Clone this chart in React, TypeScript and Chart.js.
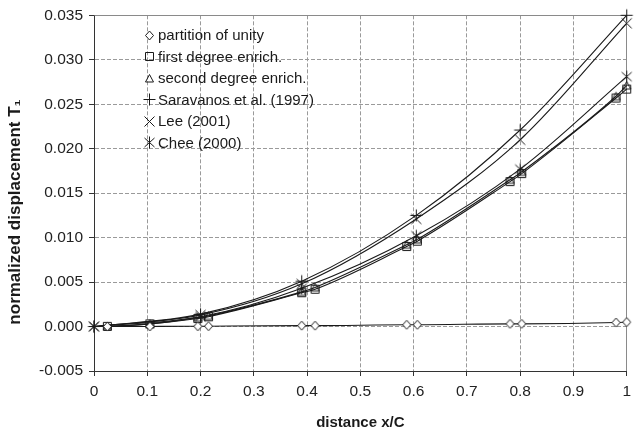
import React, { useEffect, useRef } from 'react';
import { Chart, registerables } from 'chart.js';

Chart.register(...registerables);

const W = 637;
const H = 435;

// ---- data ----
const enrichX = [0, 0.025, 0.105, 0.195, 0.215, 0.39, 0.415, 0.587, 0.607, 0.781, 0.803, 0.98, 1.0];
const partitionY = [0, 0, 0.00001, 0.00003, 0.00004, 0.0001, 0.0001, 0.0002, 0.0002, 0.0003, 0.0003, 0.00045, 0.0005];
const firstDegreeY = [0, 0.00002, 0.0003, 0.0009, 0.0011, 0.0038, 0.0042, 0.009, 0.0096, 0.0163, 0.0172, 0.0257, 0.0267];
const secondDegreeY = [0, 0.00002, 0.0003, 0.001, 0.0012, 0.0039, 0.0044, 0.0092, 0.0098, 0.0165, 0.0174, 0.0259, 0.0271];
const enrichMarkerShown = [0, 1, 1, 1, 1, 1, 1, 1, 1, 1, 1, 1, 1];

const refX = [0, 0.2, 0.39, 0.605, 0.8, 1.0];
const saravanosY = [0, 0.0014, 0.0051, 0.0125, 0.0221, 0.035];
const leeY = [0, 0.0013, 0.0048, 0.0121, 0.021, 0.0341];
const cheeY = [0, 0.0011, 0.0043, 0.0102, 0.0177, 0.0281];

const xTickValues = [0, 0.1, 0.2, 0.3, 0.4, 0.5, 0.6, 0.7, 0.8, 0.9, 1];
const xTickLabels = ['0', '0.1', '0.2', '0.3', '0.4', '0.5', '0.6', '0.7', '0.8', '0.9', '1'];
const yTickValues = [-0.005, 0, 0.005, 0.01, 0.015, 0.02, 0.025, 0.03, 0.035];
const yTickLabels = ['-0.005', '0.000', '0.005', '0.010', '0.015', '0.020', '0.025', '0.030', '0.035'];

const seriesNames = [
  'partition of unity',
  'first degree enrich.',
  'second degree enrich.',
  'Saravanos et al. (1997)',
  'Lee (2001)',
  'Chee (2000)',
];
const seriesMarkers = ['diamond', 'square', 'triangle', 'plus', 'x', 'asterisk'];

const xTitle = 'distance x/C';
const yTitle = 'normalized displacement T\u2081';

const FONT = '"Liberation Sans", Arial, sans-serif';
const INK = '#1a1a1a';

function makeMarker(kind: string): HTMLCanvasElement {
  const s = 15;
  const c = document.createElement('canvas');
  c.width = s;
  c.height = s;
  const g = c.getContext('2d')!;
  const m = 7.5;
  g.strokeStyle = INK;
  g.lineWidth = 1;
  g.beginPath();
  switch (kind) {
    case 'diamond':
      g.moveTo(m, m - 4.5);
      g.lineTo(m + 4, m);
      g.lineTo(m, m + 4.5);
      g.lineTo(m - 4, m);
      g.closePath();
      g.fillStyle = '#fff';
      g.fill();
      break;
    case 'square':
      g.rect(3.5, 3.5, 8, 8);
      break;
    case 'triangle':
      g.moveTo(m, m - 4);
      g.lineTo(m + 4, m + 3.5);
      g.lineTo(m - 4, m + 3.5);
      g.closePath();
      break;
    case 'plus':
      g.moveTo(m - 6, m);
      g.lineTo(m + 6, m);
      g.moveTo(m, m - 6);
      g.lineTo(m, m + 6);
      break;
    case 'x':
      g.moveTo(m - 5, m - 5);
      g.lineTo(m + 5, m + 5);
      g.moveTo(m + 5, m - 5);
      g.lineTo(m - 5, m + 5);
      break;
    case 'asterisk':
      g.moveTo(m - 5, m - 4.5);
      g.lineTo(m + 5, m + 4.5);
      g.moveTo(m + 5, m - 4.5);
      g.lineTo(m - 5, m + 4.5);
      g.moveTo(m, m - 6);
      g.lineTo(m, m + 6);
      break;
  }
  g.stroke();
  return c;
}

export default function App() {
  const ref = useRef<HTMLCanvasElement | null>(null);

  useEffect(() => {
    const canvas = ref.current;
    if (!canvas) return;
    const markers = seriesMarkers.map(makeMarker);

    const toPts = (xs: number[], ys: number[]) => xs.map((x, i) => ({ x, y: ys[i] }));
    const enrichRadius = enrichMarkerShown.map((v) => (v ? 5 : 0));

    const base = {
      borderColor: INK,
      borderWidth: 1.1,
      fill: false,
      cubicInterpolationMode: 'monotone' as const,
      clip: false as any,
      pointBorderColor: INK,
      pointBackgroundColor: 'rgba(0,0,0,0)',
    };

    const datasets: any[] = [
      { ...base, label: seriesNames[0], data: toPts(enrichX, partitionY), pointStyle: markers[0], pointRadius: enrichRadius, order: 1 },
      { ...base, label: seriesNames[1], data: toPts(enrichX, firstDegreeY), pointStyle: markers[1], pointRadius: enrichRadius, order: 3 },
      { ...base, label: seriesNames[2], data: toPts(enrichX, secondDegreeY), pointStyle: markers[2], pointRadius: enrichRadius, order: 2 },
      { ...base, label: seriesNames[3], data: toPts(refX, saravanosY), pointStyle: markers[3], pointRadius: 5, order: 4 },
      { ...base, label: seriesNames[4], data: toPts(refX, leeY), pointStyle: markers[4], pointRadius: 5, order: 5 },
      { ...base, label: seriesNames[5], data: toPts(refX, cheeY), pointStyle: markers[5], pointRadius: 5, order: 6 },
    ];

    const decor = {
      id: 'decor',
      beforeDatasetsDraw(chart: any) {
        const { ctx, chartArea: a } = chart;
        ctx.save();
        ctx.strokeStyle = '#8a8a8a';
        ctx.lineWidth = 1;
        ctx.setLineDash([]);
        ctx.beginPath();
        ctx.moveTo(Math.round(a.left) + 0.5, Math.round(a.top) + 0.5);
        ctx.lineTo(Math.round(a.right) - 0.5, Math.round(a.top) + 0.5);
        ctx.lineTo(Math.round(a.right) - 0.5, Math.round(a.bottom));
        ctx.stroke();
        ctx.restore();
      },
      afterDraw(chart: any) {
        const { ctx, chartArea: a } = chart;
        ctx.save();
        // legend
        ctx.font = `15px ${FONT}`;
        ctx.fillStyle = INK;
        ctx.textBaseline = 'middle';
        ctx.textAlign = 'left';
        seriesNames.forEach((name, i) => {
          const y = 35 + i * 21.5;
          const mk = markers[i];
          ctx.drawImage(mk, Math.round(149 - mk.width / 2), Math.round(y - mk.height / 2));
          ctx.fillText(name, 158, y + 1);
        });
        // axis titles
        ctx.font = `bold 15px ${FONT}`;
        ctx.textAlign = 'center';
        ctx.fillText(xTitle, (a.left + a.right) / 2, 423);
        ctx.font = `bold 17px ${FONT}`;
        ctx.translate(15, 212);
        ctx.rotate(-Math.PI / 2);
        ctx.fillText(yTitle, 0, 0);
        ctx.restore();
      },
    };

    const chart = new Chart(canvas, {
      type: 'line',
      data: { datasets },
      plugins: [decor],
      options: {
        responsive: false,
        animation: false,
        events: [],
        layout: { padding: { left: 0, right: 4, top: 13, bottom: 0 } },
        plugins: { legend: { display: false }, tooltip: { enabled: false } },
        scales: {
          x: {
            type: 'linear',
            min: 0,
            max: 1,
            afterBuildTicks: (s: any) => {
              s.ticks = xTickValues.map((v) => ({ value: v }));
            },
            afterFit: (s: any) => {
              s.height = H - 371;
            },
            ticks: {
              autoSkip: false,
              maxRotation: 0,
              padding: 6,
              color: '#222',
              font: { family: FONT, size: 15.5 },
              callback: (_v: any, i: number) => xTickLabels[i],
            },
            grid: {
              color: '#9a9a9a',
              lineWidth: 1,
              drawTicks: true,
              tickLength: 5,
              tickColor: '#333',
            },
            border: { display: true, color: '#333', width: 1, dash: [4, 2] },
          },
          y: {
            type: 'linear',
            min: -0.005,
            max: 0.035,
            afterBuildTicks: (s: any) => {
              s.ticks = yTickValues.map((v) => ({ value: v }));
            },
            afterFit: (s: any) => {
              s.width = 94;
            },
            ticks: {
              autoSkip: false,
              padding: 6,
              color: '#222',
              font: { family: FONT, size: 15.5 },
              callback: (_v: any, i: number) => yTickLabels[i],
            },
            grid: {
              color: '#9a9a9a',
              lineWidth: 1,
              drawTicks: true,
              tickLength: 5,
              tickColor: '#333',
            },
            border: { display: true, color: '#333', width: 1, dash: [4, 2] },
          },
        },
      } as any,
    });

    return () => chart.destroy();
  }, []);

  return (
    <div style={{ position: 'fixed', left: 0, top: 0, width: W, height: H, background: '#fff' }}>
      <canvas ref={ref} width={W} height={H} style={{ width: W, height: H, display: 'block' }} />
    </div>
  );
}
